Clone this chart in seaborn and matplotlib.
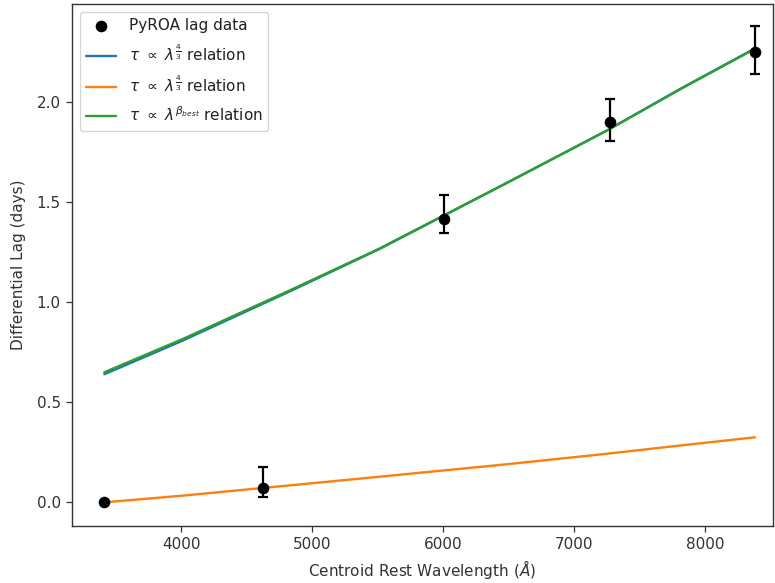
import matplotlib
matplotlib.use("Agg")
import matplotlib.pyplot as plt
import seaborn as sns
import pandas as pd

# Measured differential lags (PyROA) per band
wavelength = [3412, 4624, 6005, 7275, 8382]
lag = [0.0, 0.07, 1.415, 1.90, 2.248]
lag_err_low = [0.0, 0.045, 0.07, 0.095, 0.11]
lag_err_high = [0.0, 0.105, 0.12, 0.115, 0.13]

# Model lag curves sampled along wavelength
model_wavelength = [3412, 4000, 4832, 5511, 6435, 7252, 7809, 8382]
model_43_offset = [0.640, 0.805, 1.055, 1.265, 1.578, 1.858, 2.065, 2.268]
model_43_fixed = [0.0, 0.033, 0.085, 0.128, 0.187, 0.243, 0.284, 0.325]
model_best = [0.650, 0.813, 1.060, 1.267, 1.579, 1.858, 2.063, 2.266]

label_data = "PyROA lag data"
label_43a = r"$\tau\ \propto\ \lambda^{\frac{4}{3}}$ relation"
label_43b = r"$\tau\ \propto\ \lambda^{\frac{4}{3}}$ relation"
label_best = r"$\tau\ \propto\ \lambda^{\beta_{best}}$ relation"

FS = 11

sns.set_style("ticks")
plt.rcParams["font.family"] = ["DejaVu Sans"]
plt.rcParams["font.size"] = FS

fig = plt.figure(figsize=(7.75, 5.83), dpi=100)
ax = fig.add_axes([0.0929, 0.0978, 0.9045, 0.8954])

pal = sns.color_palette("tab10")

df_model = pd.DataFrame({
    "wl": model_wavelength,
    "a": model_43_offset,
    "b": model_43_fixed,
    "c": model_best,
})

sns.lineplot(data=df_model, x="wl", y="a", ax=ax, color=pal[0], lw=1.7, label=label_43a)
sns.lineplot(data=df_model, x="wl", y="b", ax=ax, color=pal[1], lw=1.7, label=label_43b)
sns.lineplot(data=df_model, x="wl", y="c", ax=ax, color=pal[2], lw=1.7, label=label_best)

ax.errorbar(wavelength, lag, yerr=[lag_err_low, lag_err_high], fmt="none",
            ecolor="black", elinewidth=1.6, capsize=3.5, capthick=1.6, zorder=4)
df_pts = pd.DataFrame({"wl": wavelength, "lag": lag})
sns.scatterplot(data=df_pts, x="wl", y="lag", ax=ax, color="black", s=70,
                edgecolor="black", linewidth=0, zorder=5, label=label_data)

ax.set_xlim(3165, 8520)
ax.set_ylim(-0.118, 2.49)
ax.set_xticks([4000, 5000, 6000, 7000, 8000])
ax.set_yticks([0.0, 0.5, 1.0, 1.5, 2.0])
ax.set_yticklabels(["0.0", "0.5", "1.0", "1.5", "2.0"])
ax.tick_params(labelsize=FS, length=4.5, width=0.9, colors="#333333")
for s in ax.spines.values():
    s.set_visible(True)
    s.set_linewidth(1.0)
    s.set_color("#333333")

ax.set_xlabel(r"Centroid Rest Wavelength ($\AA$)", fontsize=FS, color="#333333")
ax.set_ylabel("Differential Lag (days)", fontsize=FS, color="#333333", labelpad=8)

handles, labels = ax.get_legend_handles_labels()
order = [labels.index(label_data)] + [i for i, l in enumerate(labels) if l != label_data]
ax.legend([handles[i] for i in order], [labels[i] for i in order],
          loc="upper left", fontsize=FS, frameon=True, fancybox=True,
          borderaxespad=0.5, labelspacing=0.68, labelcolor="#222222")

fig.savefig("out.png", dpi=100)
